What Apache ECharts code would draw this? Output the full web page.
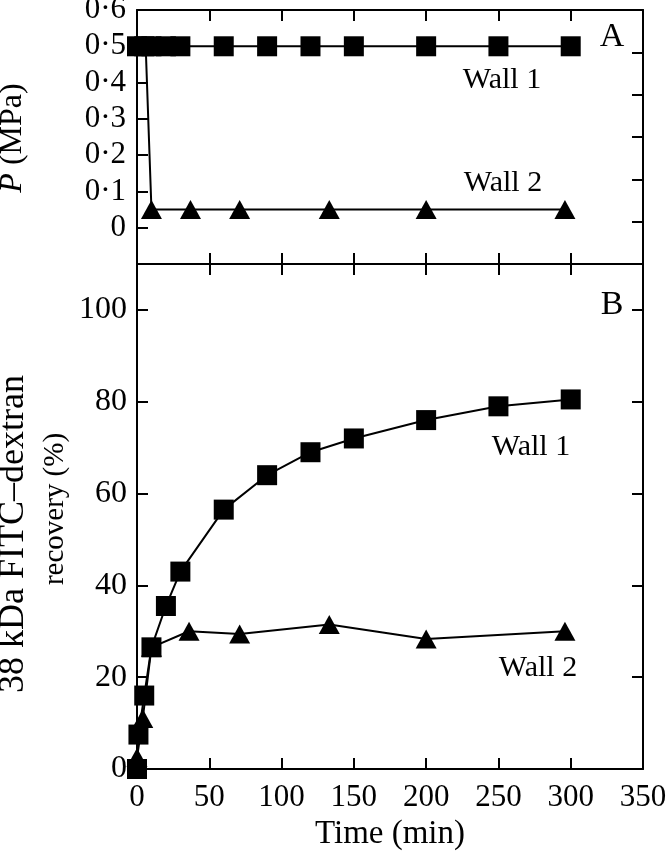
<!DOCTYPE html>
<html>
<head>
<meta charset="utf-8">
<script src="https://cdn.jsdelivr.net/npm/echarts@6/dist/echarts.min.js"></script>
<style>
html,body{margin:0;padding:0;background:#fff;}
#chart{width:668px;height:852px;}
</style>
</head>
<body>
<div id="chart"></div>
<script>
// Panel A: pressure (MPa)
const pTimeWall1 = [0, 5, 10, 20, 30, 60, 90, 120, 150, 200, 250, 300];
const pWall1 = [0.5, 0.5, 0.5, 0.5, 0.5, 0.5, 0.5, 0.5, 0.5, 0.5, 0.5, 0.5];
const pTimeWall2 = [6, 10, 37, 71, 133, 200, 296];
const pWall2 = [0.5, 0.05, 0.05, 0.05, 0.05, 0.05, 0.05];
// Panel B: 38 kDa FITC-dextran recovery (%)
const rTimeWall1 = [0, 1, 5, 10, 20, 30, 60, 90, 120, 150, 200, 250, 300];
const rWall1 = [0, 7.5, 16, 26.5, 35.5, 43, 56.5, 64, 69, 72, 76, 79, 80.5];
const rTimeWall2 = [0, 4, 10, 36, 71, 133, 200, 296];
const rWall2 = [2.5, 11, 26.5, 30, 29.4, 31.5, 28.3, 30];
// Axis ticks
const xTicks = [0, 50, 100, 150, 200, 250, 300, 350];
const pTicks = [0, 0.1, 0.2, 0.3, 0.4, 0.5, 0.6];
const rTicks = [0, 20, 40, 60, 80, 100];

const FONT = "'Liberation Serif', 'DejaVu Serif', serif";
const BLACK = '#000';
const zip = (xs, ys) => xs.map((x, i) => [x, ys[i]]);

const lineStyleAxis = { show: true, onZero: false, lineStyle: { color: BLACK, width: 2 } };
const tickIn = { show: true, inside: true, length: 11, lineStyle: { color: BLACK, width: 2 } };

function xAx(gridIndex, position, showLabel) {
  return {
    type: 'value', gridIndex, position,
    min: xTicks[0], max: xTicks[xTicks.length - 1], interval: xTicks[1] - xTicks[0],
    axisLine: lineStyleAxis, axisTick: tickIn, splitLine: { show: false },
    axisLabel: showLabel ? { show: true, fontFamily: FONT, fontSize: 31, color: BLACK, margin: 13 } : { show: false },
    name: showLabel ? 'Time (min)' : '',
    nameLocation: 'middle', nameGap: 48,
    nameTextStyle: { fontFamily: FONT, fontSize: 33, color: BLACK }
  };
}

const option = {
  animation: false,
  backgroundColor: '#fff',
  grid: [
    { left: 137, right: 25, top: 10, height: 254, containLabel: false, outerBoundsMode: 'none' },
    { left: 137, right: 25, top: 264, bottom: 83, containLabel: false, outerBoundsMode: 'none' }
  ],
  xAxis: [
    xAx(0, 'bottom', false),
    xAx(0, 'top', false),
    xAx(1, 'bottom', true),
    xAx(1, 'top', false)
  ],
  yAxis: [
    {
      type: 'value', gridIndex: 0, position: 'left',
      min: -0.1, max: pTicks[pTicks.length - 1], interval: 0.1,
      axisLine: lineStyleAxis, axisTick: tickIn, splitLine: { show: false },
      axisLabel: {
        fontFamily: FONT, fontSize: 31, color: BLACK, margin: 11,
        formatter: v => {
          const r = Math.round(v * 10) / 10;
          if (r < 0) return '';
          if (r === 0) return '0';
          return r.toFixed(1).replace('.', '·');
        }
      }
    },
    {
      type: 'value', gridIndex: 0, position: 'right',
      min: 0, max: 6, interval: 1,
      axisLine: lineStyleAxis, axisTick: tickIn, splitLine: { show: false },
      axisLabel: { show: false }
    },
    {
      type: 'value', gridIndex: 1, position: 'left',
      min: rTicks[0], max: 110, interval: 20,
      axisLine: lineStyleAxis, axisTick: tickIn, splitLine: { show: false },
      axisLabel: {
        fontFamily: FONT, fontSize: 32, color: BLACK, margin: 10,
        formatter: v => (rTicks.indexOf(Math.round(v)) >= 0 && Math.abs(v - Math.round(v)) < 1e-6) ? String(Math.round(v)) : ''
      }
    },
    {
      type: 'value', gridIndex: 1, position: 'right',
      min: rTicks[0], max: 110, interval: 20,
      axisLine: lineStyleAxis, axisTick: tickIn, splitLine: { show: false },
      axisLabel: { show: false }
    }
  ],
  series: [
    {
      name: 'Wall 2 P', type: 'line', xAxisIndex: 0, yAxisIndex: 0, clip: false,
      data: zip(pTimeWall2, pWall2), symbol: 'triangle', symbolSize: [21, 19],
      itemStyle: { color: BLACK }, lineStyle: { color: BLACK, width: 2 }
    },
    {
      name: 'Wall 1 P', type: 'line', xAxisIndex: 0, yAxisIndex: 0, clip: false,
      data: zip(pTimeWall1, pWall1), symbol: 'rect', symbolSize: 20,
      itemStyle: { color: BLACK }, lineStyle: { color: BLACK, width: 2 }
    },
    {
      name: 'Wall 2 R', type: 'line', xAxisIndex: 2, yAxisIndex: 2, clip: false,
      data: zip(rTimeWall2, rWall2), symbol: 'triangle', symbolSize: [21, 19],
      itemStyle: { color: BLACK }, lineStyle: { color: BLACK, width: 2 }
    },
    {
      name: 'Wall 1 R', type: 'line', xAxisIndex: 2, yAxisIndex: 2, clip: false,
      data: zip(rTimeWall1, rWall1), symbol: 'rect', symbolSize: 20,
      itemStyle: { color: BLACK }, lineStyle: { color: BLACK, width: 2 }
    }
  ],
  graphic: [
    { type: 'text', x: 13, y: 138, rotation: Math.PI / 2,
      style: { text: '{i|P} (MPa)', rich: { i: { fontStyle: 'italic', fontFamily: FONT, fontSize: 32, fill: BLACK } },
        fontFamily: FONT, fontSize: 32, fill: BLACK, align: 'center', verticalAlign: 'middle' } },
    { type: 'text', x: 14, y: 534, rotation: Math.PI / 2,
      style: { text: '38 kDa FITC–dextran', fontFamily: FONT, fontSize: 36, fill: BLACK, align: 'center', verticalAlign: 'middle' } },
    { type: 'text', x: 55, y: 509, rotation: Math.PI / 2,
      style: { text: 'recovery (%)', fontFamily: FONT, fontSize: 29, fill: BLACK, align: 'center', verticalAlign: 'middle' } },
    { type: 'text', x: 612, y: 37,
      style: { text: 'A', fontFamily: FONT, fontSize: 34, fill: BLACK, align: 'center', verticalAlign: 'middle' } },
    { type: 'text', x: 612, y: 305,
      style: { text: 'B', fontFamily: FONT, fontSize: 34, fill: BLACK, align: 'center', verticalAlign: 'middle' } },
    { type: 'text', x: 502, y: 80,
      style: { text: 'Wall 1', fontFamily: FONT, fontSize: 30, fill: BLACK, align: 'center', verticalAlign: 'middle' } },
    { type: 'text', x: 503, y: 183,
      style: { text: 'Wall 2', fontFamily: FONT, fontSize: 30, fill: BLACK, align: 'center', verticalAlign: 'middle' } },
    { type: 'text', x: 531, y: 447,
      style: { text: 'Wall 1', fontFamily: FONT, fontSize: 30, fill: BLACK, align: 'center', verticalAlign: 'middle' } },
    { type: 'text', x: 538, y: 668,
      style: { text: 'Wall 2', fontFamily: FONT, fontSize: 30, fill: BLACK, align: 'center', verticalAlign: 'middle' } }
  ]
};

const chart = echarts.init(document.getElementById('chart'), null, { renderer: 'canvas' });
chart.setOption(option);
</script>
</body>
</html>
